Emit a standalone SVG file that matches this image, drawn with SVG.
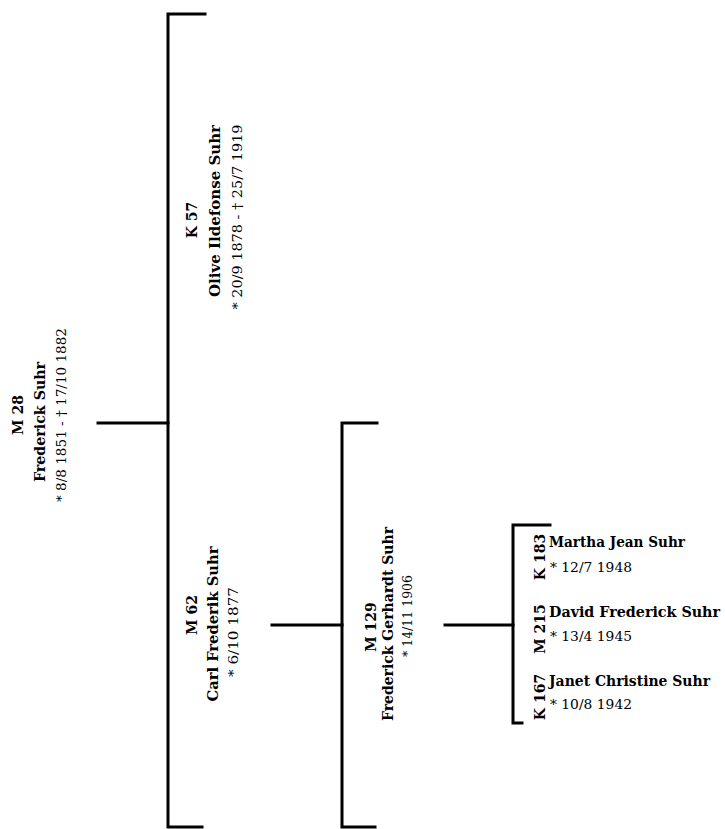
<svg xmlns="http://www.w3.org/2000/svg" width="725" height="829" viewBox="0 0 725 829">
<style>
text{font-family:"DejaVu Serif","Liberation Serif",serif;font-size:14px;fill:#000}
.b{font-weight:bold}
.r{font-weight:normal;font-size:13.5px}
.m{text-anchor:middle}
.ln{fill:none;stroke:#000;stroke-width:3;stroke-linecap:square;stroke-linejoin:miter}
</style>
<rect width="725" height="829" fill="#fff"/>
<g id="connectors">
<path class="ln" d="M205,14 H168 V827 H202"/>
<path class="ln" d="M98,423 H168"/>
<path class="ln" d="M377,423 H342 V827 H375"/>
<path class="ln" d="M272,625 H342"/>
<path class="ln" d="M445,625 H513"/>
<path class="ln" d="M550,525 H513 V723 H522"/>
</g>
<g id="M28">
<text class="b m" transform="translate(23,415) rotate(-90)">M 28</text>
<text class="b m" transform="translate(45,422) rotate(-90)" textLength="120" lengthAdjust="spacingAndGlyphs">Frederick Suhr</text>
<text class="r m" transform="translate(66,415) rotate(-90)" textLength="174" lengthAdjust="spacingAndGlyphs">* 8/8 1851 - † 17/10 1882</text>
</g>
<g id="K57">
<text class="b m" transform="translate(197,220) rotate(-90)">K 57</text>
<text class="b m" transform="translate(220,211) rotate(-90)" textLength="172" lengthAdjust="spacingAndGlyphs">Olive Ildefonse Suhr</text>
<text class="r m" transform="translate(242,217) rotate(-90)" textLength="185" lengthAdjust="spacingAndGlyphs">* 20/9 1878 - † 25/7 1919</text>
</g>
<g id="M62">
<text class="b m" transform="translate(197,615) rotate(-90)">M 62</text>
<text class="b m" transform="translate(218,624) rotate(-90)" textLength="155" lengthAdjust="spacingAndGlyphs">Carl Frederik Suhr</text>
<text class="r m" transform="translate(238,632) rotate(-90)" textLength="90" lengthAdjust="spacingAndGlyphs">* 6/10 1877</text>
</g>
<g id="M129">
<text class="b m" transform="translate(376,627) rotate(-90)">M 129</text>
<text class="b m" transform="translate(393,624) rotate(-90)" textLength="194" lengthAdjust="spacingAndGlyphs">Frederick Gerhardt Suhr</text>
<text class="r m" transform="translate(412,616) rotate(-90)" textLength="82" lengthAdjust="spacingAndGlyphs">* 14/11 1906</text>
</g>
<g id="K183">
<text class="b m" transform="translate(545,557) rotate(-90)">K 183</text>
<text class="b" x="549" y="547" textLength="136" lengthAdjust="spacingAndGlyphs">Martha Jean Suhr</text>
<text class="r" x="550" y="572" textLength="82" lengthAdjust="spacingAndGlyphs">* 12/7 1948</text>
</g>
<g id="M215">
<text class="b m" transform="translate(545,629) rotate(-90)">M 215</text>
<text class="b" x="549" y="617" textLength="171" lengthAdjust="spacingAndGlyphs">David Frederick Suhr</text>
<text class="r" x="550" y="641" textLength="82" lengthAdjust="spacingAndGlyphs">* 13/4 1945</text>
</g>
<g id="K167">
<text class="b m" transform="translate(545,697) rotate(-90)">K 167</text>
<text class="b" x="549" y="686" textLength="161" lengthAdjust="spacingAndGlyphs">Janet Christine Suhr</text>
<text class="r" x="550" y="709" textLength="82" lengthAdjust="spacingAndGlyphs">* 10/8 1942</text>
</g>
</svg>
